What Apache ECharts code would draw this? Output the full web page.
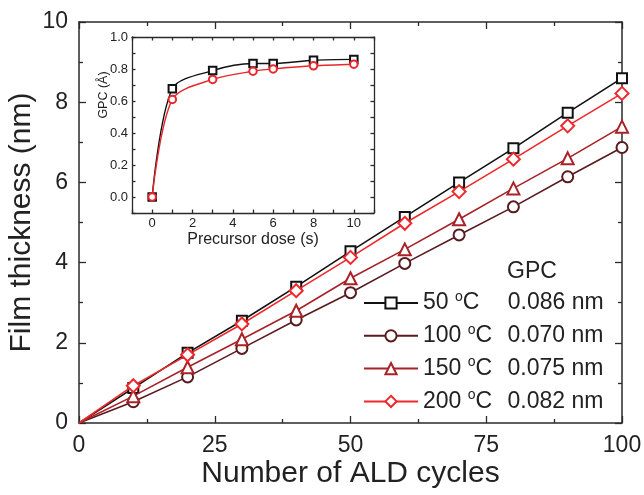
<!DOCTYPE html>
<html><head><meta charset="utf-8">
<script src="https://cdn.jsdelivr.net/npm/echarts@6/dist/echarts.min.js"></script>
<style>html,body{margin:0;padding:0;background:#fff}#c{width:644px;height:495px}</style>
</head><body><div id="c"></div>
<script>
// ---- main chart data ----
const cycles = [0, 10, 20, 30, 40, 50, 60, 70, 80, 90, 100];
const t50  = [0, 0.87, 1.75, 2.55, 3.40, 4.28, 5.14, 6.00, 6.85, 7.74, 8.60];
const t100 = [0, 0.53, 1.15, 1.86, 2.57, 3.25, 3.98, 4.69, 5.39, 6.14, 6.87];
const t150 = [0, 0.67, 1.39, 2.09, 2.80, 3.61, 4.33, 5.08, 5.85, 6.60, 7.39];
const t200 = [0, 0.93, 1.70, 2.47, 3.30, 4.13, 4.98, 5.77, 6.58, 7.41, 8.22];
const temps = ['50', '100', '150', '200'];
const gpcValues = ['0.086 nm', '0.070 nm', '0.075 nm', '0.082 nm'];
// ---- inset data ----
const dose = [0, 1, 3, 5, 6, 8, 10];
const gpcA = [0, 0.677, 0.79, 0.834, 0.834, 0.855, 0.86];
const gpcB = [0, 0.61, 0.735, 0.786, 0.80, 0.82, 0.83];

const FONT = "'Liberation Sans', Arial, sans-serif";
const colors = ['#111111', '#5a1b1f', '#a82228', '#f0272b'];
const symbols = ['emptyRect', 'emptyCircle', 'emptyTriangle', 'emptyDiamond'];
const symSizes = [10, 11, 12, 13];
const mainSets = [t50, t100, t150, t200];
const seriesNames = temps.map(t => t + ' °C');

const chart = echarts.init(document.getElementById('c'));
const axisLineStyle = { color: '#2a2a2a', width: 1.5 };

function mainX(pos, showLabel, name) {
  return {
    type: 'value', gridIndex: 0, position: pos, min: 0, max: 100, interval: 25,
    axisLine: { show: true, onZero: false, lineStyle: axisLineStyle },
    axisTick: { show: true, inside: true, length: 7, lineStyle: { color: '#2a2a2a', width: 1.3 } },
    minorTick: { show: true, splitNumber: 2, length: 4, lineStyle: { color: '#2a2a2a', width: 1.3 } },
    axisLabel: { show: showLabel, fontSize: 23, color: '#222', fontFamily: FONT, margin: 11 },
    splitLine: { show: false },
    name: name || '', nameLocation: 'middle', nameGap: 36, nameMoveOverlap: false,
    nameTextStyle: { fontSize: 30, color: '#222', fontFamily: FONT }
  };
}
function mainY(pos, showLabel, name) {
  return {
    type: 'value', gridIndex: 0, position: pos, min: 0, max: 10, interval: 2,
    axisLine: { show: true, onZero: false, lineStyle: axisLineStyle },
    axisTick: { show: true, inside: true, length: 7, lineStyle: { color: '#2a2a2a', width: 1.3 } },
    minorTick: { show: true, splitNumber: 2, length: 4, lineStyle: { color: '#2a2a2a', width: 1.3 } },
    axisLabel: { show: showLabel, fontSize: 23, color: '#222', fontFamily: FONT, margin: 11 },
    splitLine: { show: false },
    name: name || '', nameLocation: 'middle', nameGap: 42, nameMoveOverlap: false,
    nameTextStyle: { fontSize: 30, color: '#222', fontFamily: FONT }
  };
}
const insetLine = { color: '#2a2a2a', width: 1.3 };
function insetX(pos, showLabel, name) {
  return {
    type: 'value', gridIndex: 1, position: pos, min: -1, max: 11, interval: 1, z: 11,
    axisLine: { show: true, onZero: false, lineStyle: insetLine },
    axisTick: { show: true, inside: true, length: 3.5, lineStyle: insetLine },
    axisLabel: {
      show: showLabel, fontSize: 13, color: '#222', fontFamily: FONT, margin: 4,
      formatter: v => { const r = Math.round(v); return (r >= 0 && r <= 10 && r % 2 === 0) ? String(r) : ''; }
    },
    splitLine: { show: false },
    name: name || '', nameLocation: 'middle', nameGap: 19, nameMoveOverlap: false,
    nameTextStyle: { fontSize: 16, color: '#222', fontFamily: FONT }
  };
}
function insetY(pos, showLabel, name) {
  return {
    type: 'value', gridIndex: 1, position: pos, min: -0.1, max: 1.0, interval: 0.1, z: 11,
    axisLine: { show: true, onZero: false, lineStyle: insetLine },
    axisTick: { show: true, inside: true, length: 3.5, lineStyle: insetLine },
    axisLabel: {
      show: showLabel, fontSize: 13, color: '#222', fontFamily: FONT, margin: 4,
      formatter: v => { const r = Math.round(v * 10); return (r >= 0 && r % 2 === 0) ? (r / 10).toFixed(1) : ''; }
    },
    splitLine: { show: false },
    name: name || '', nameLocation: 'middle', nameGap: 22, nameMoveOverlap: false,
    nameTextStyle: { fontSize: 12.5, color: '#222', fontFamily: FONT, padding: [0, 0, 0, 60] }
  };
}

const series = mainSets.map((arr, i) => ({
  name: seriesNames[i], type: 'line', xAxisIndex: 0, yAxisIndex: 0,
  data: cycles.map((x, j) => (j === 0 ? { value: [x, arr[j]], symbol: 'none' } : [x, arr[j]])),
  symbol: symbols[i], symbolSize: symSizes[i],
  itemStyle: { color: colors[i], borderColor: colors[i], borderWidth: 1.5 },
  lineStyle: { color: colors[i], width: 1.6 },
  z: 3 + i, animation: false
}));
series.push({
  name: 'insetA', type: 'line', xAxisIndex: 2, yAxisIndex: 2,
  data: dose.map((x, j) => [x, gpcA[j]]), smooth: 0.3,
  symbol: 'emptyRect', symbolSize: 7.5,
  itemStyle: { color: '#111', borderColor: '#111', borderWidth: 1.2 },
  lineStyle: { color: '#111', width: 1.4 }, z: 15, animation: false
});
series.push({
  name: 'insetB', type: 'line', xAxisIndex: 2, yAxisIndex: 2,
  data: dose.map((x, j) => [x, gpcB[j]]), smooth: 0.3,
  symbol: 'emptyCircle', symbolSize: 7.5,
  itemStyle: { color: '#e8262b', borderColor: '#e8262b', borderWidth: 1.2 },
  lineStyle: { color: '#e8262b', width: 1.4 }, z: 16, animation: false
});

chart.setOption({
  animation: false,
  backgroundColor: '#fff',
  textStyle: { fontFamily: FONT },
  grid: [
    { left: 79, top: 22, width: 543, height: 401, containLabel: false, outerBoundsMode: 'none' },
    { left: 132, top: 37, width: 242, height: 176, show: true, backgroundColor: '#fff', borderWidth: 0, z: 10, containLabel: false, outerBoundsMode: 'none' }
  ],
  xAxis: [
    mainX('bottom', true, 'Number of ALD cycles'),
    mainX('top', false),
    insetX('bottom', true, 'Precursor dose (s)'),
    insetX('top', false)
  ],
  yAxis: [
    mainY('left', true, 'Film thickness (nm)'),
    mainY('right', false),
    insetY('left', true, 'GPC (Å)'),
    insetY('right', false)
  ],
  legend: {
    data: seriesNames, orient: 'vertical', left: 363, top: 290, padding: 0,
    itemWidth: 54, itemHeight: 14, itemGap: 8.3,
    textStyle: {
      fontSize: 23, color: '#222', fontFamily: FONT,
      rich: {
        t: { fontSize: 23, lineHeight: 26, color: '#222', fontFamily: FONT },
        s: { fontSize: 14, lineHeight: 12, verticalAlign: 'top', color: '#222', fontFamily: FONT },
        c2: { fontSize: 23, lineHeight: 26, width: 45, color: '#222', fontFamily: FONT },
        c3: { fontSize: 23, lineHeight: 26, width: 32, color: '#222', fontFamily: FONT },
        v: { fontSize: 23, lineHeight: 26, color: '#222', fontFamily: FONT }
      }
    },
    formatter: name => {
      const i = seriesNames.indexOf(name);
      const t = temps[i];
      const c = t.length === 2 ? 'c2' : 'c3';
      return '{t|' + t + ' }{s|o}{' + c + '|C}{v|' + gpcValues[i] + '}';
    }
  },
  graphic: [
    { type: 'text', left: 507, top: 260, z: 20,
      style: { text: 'GPC', fontSize: 23, fill: '#222', fontFamily: FONT } }
  ],
  series: series
});
</script></body></html>
